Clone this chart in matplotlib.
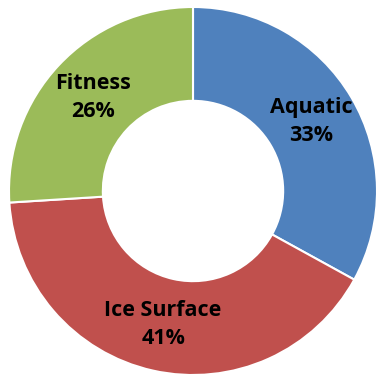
import numpy as np
import matplotlib.pyplot as plt

# 数据
names = ['Aquatic', 'Ice Surface', 'Fitness']
values = [33, 41, 26]
colors = ['#4F81BD', '#C0504D', '#9BBB59']

fig = plt.figure(figsize=(3.77, 3.77), dpi=100)
ax = fig.add_axes([9 / 377, 2 / 377, 368 / 377, 368 / 377])

wedges, _ = ax.pie(values, colors=colors, startangle=90, counterclock=False,
                   radius=1.0, wedgeprops=dict(width=0.51, edgecolor='white', linewidth=1.5))

for w, n, v in zip(wedges, names, values):
    ang = np.deg2rad((w.theta1 + w.theta2) / 2)
    r = 0.745
    ax.text(r * np.cos(ang), r * np.sin(ang), f'{n}\n{v}%', ha='center', va='center',
            fontsize=15.5, fontweight='bold', family='Open Sans', linespacing=1.45)

ax.set_xlim(-1, 1)
ax.set_ylim(-1, 1)
ax.set_aspect('equal')
ax.axis('off')
fig.savefig('out.png', dpi=100)
